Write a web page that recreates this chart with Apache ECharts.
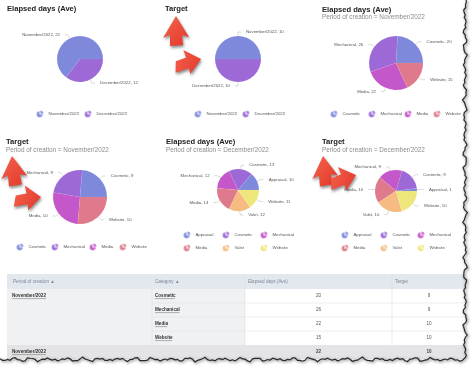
<!DOCTYPE html>
<html><head><meta charset="utf-8">
<script src="https://cdn.jsdelivr.net/npm/echarts@6/dist/echarts.min.js"></script>
<style>html,body{margin:0;padding:0;background:#fff;overflow:hidden}#c{width:474px;height:368px}</style>
</head><body><div id="c"></div>
<script>
// ---------- DATA ----------
const periodNames = ['November/2022', 'December/2022'];
const elapsedByPeriod = [22, 12];
const targetByPeriod = [10, 10];
const novCategories = ['Cosmetic', 'Mechanical', 'Media', 'Website'];
const novElapsed = [20, 26, 22, 15];
const novTarget = [9, 9, 10, 10];
const decCategories = ['Appraisal', 'Cosmetic', 'Mechanical', 'Media', 'Valet', 'Website'];
const decElapsed = [10, 13, 12, 14, 12, 11];
const decTarget = [1, 9, 9, 10, 10, 10];
const tableHeaders = ['Period of creation \u25B2', 'Category \u25B2', 'Elapsed days (Ave)', 'Target'];
const chartTitles = ['Elapsed days (Ave)', 'Target', 'Elapsed days (Ave)', 'Target', 'Elapsed days (Ave)', 'Target'];
const chartSubtitles = ['', '', 'Period of creation = November/2022', 'Period of creation = November/2022',
  'Period of creation = December/2022', 'Period of creation = December/2022'];

// ---------- STYLE / LAYOUT ----------
const FONT = '"Liberation Sans", Arial, sans-serif';
const palette = ['#7f89db', '#9c69d6', '#c457c9', '#de7a8c', '#f5bb80', '#ede77b'];
const PIE_ICON = 'path://M9,11L9,2A9,9,0,1,0,18,11Z M11,9L11,0A9,9,0,0,1,20,9Z';

const panels = [
  { names: periodNames, values: elapsedByPeriod, tx: 7, ty: 5, cx: 80, cy: 59, r: 23,
    leg: [[39, 113], [87, 113]] },
  { names: periodNames, values: targetByPeriod, tx: 165, ty: 5, cx: 238, cy: 59, r: 23,
    leg: [[197, 113], [245, 113]] },
  { names: novCategories, values: novElapsed, tx: 322, ty: 5.5, cx: 396, cy: 63, r: 27,
    leg: [[333, 113], [371, 113], [407, 113], [436, 113]] },
  { names: novCategories, values: novTarget, tx: 6, ty: 138, cx: 80, cy: 197, r: 27,
    leg: [[19, 246], [54, 246], [92, 246], [122, 246]] },
  { names: decCategories, values: decElapsed, tx: 166, ty: 138, cx: 238, cy: 190, r: 21,
    leg: [[186, 234], [225, 234], [263, 234], [186, 247], [225, 247], [263, 247]] },
  { names: decCategories, values: decTarget, tx: 322, ty: 138, cx: 396, cy: 191, r: 21,
    leg: [[344, 234], [383, 234], [420, 234], [344, 247], [383, 247], [420, 247]] }
];

const titles = [], series = [], legends = [];
panels.forEach((p, k) => {
  titles.push({
    text: chartTitles[k], subtext: chartSubtitles[k], left: p.tx, top: p.ty, padding: 0, itemGap: 1,
    textStyle: { fontSize: 7.6, fontWeight: 'bold', color: '#222', fontFamily: FONT },
    subtextStyle: { fontSize: 6.4, color: '#8c8c8c', fontFamily: FONT }
  });
  series.push({
    type: 'pie', center: [p.cx, p.cy], radius: p.r, startAngle: 0, clockwise: false,
    animation: false, avoidLabelOverlap: true,
    data: p.names.map((n, i) => ({ name: n, value: p.values[i], itemStyle: { color: palette[i] } })),
    itemStyle: { borderColor: 'rgba(255,255,255,0.25)', borderWidth: 0.2 },
    label: { formatter: '{b}, {c}', fontSize: 4.3, color: '#555', fontFamily: FONT },
    labelLine: { length: 4, length2: 3, lineStyle: { width: 0.5, color: '#b5b5b5' } },
    emphasis: { scale: false }
  });
  p.names.forEach((n, i) => {
    legends.push({
      left: p.leg[i][0] - 3.5, top: p.leg[i][1] - 3.5, padding: 0,
      itemWidth: 7, itemHeight: 7, selectedMode: false,
      data: [{ name: n, icon: PIE_ICON, itemStyle: { color: palette[i] } }],
      textStyle: { fontSize: 4.3, color: '#555', fontFamily: FONT, padding: [0, 0, 0, 0] }
    });
  });
});

// ---------- TABLE ----------
const colX = [7, 152, 245, 392, 466];
const headerTop = 274, headerH = 15, rowH = 14;
const g = [];
g.push({ type: 'rect', shape: { x: colX[0], y: headerTop, width: colX[4] - colX[0], height: headerH },
  style: { fill: '#e3e8ef' } });
tableHeaders.forEach((h, i) => {
  g.push({ type: 'text', x: colX[i] + (i === 0 ? 6 : 3), y: headerTop + headerH / 2,
    style: { text: h, fontSize: 4.6, fill: '#7c8799', fontFamily: FONT, verticalAlign: 'middle' } });
});
const bodyTop = headerTop + headerH;
g.push({ type: 'rect', shape: { x: colX[0], y: bodyTop, width: colX[2] - colX[0], height: rowH * novCategories.length },
  style: { fill: '#f0f1f3' } });
[colX[1], colX[2], colX[3]].forEach((x, i) => {
  g.push({ type: 'line', shape: { x1: x, y1: i === 0 ? bodyTop : headerTop, x2: x, y2: bodyTop + rowH * 4 },
    style: { stroke: '#dcdde0', lineWidth: 0.6 } });
});
function linkText(txt, x, y, w) {
  g.push({ type: 'text', x: x, y: y,
    style: { text: txt, fontSize: 4.6, fontWeight: 'bold', fill: '#333', fontFamily: FONT, verticalAlign: 'middle' } });
  g.push({ type: 'line', shape: { x1: x, y1: y + 2.6, x2: x + w, y2: y + 2.6 }, style: { stroke: '#444', lineWidth: 0.4 } });
}
linkText(periodNames[0], colX[0] + 5, bodyTop + rowH / 2, 34);
novCategories.forEach((c, i) => {
  const cy = bodyTop + rowH * i + rowH / 2;
  if (i > 0) g.push({ type: 'line', shape: { x1: colX[1], y1: bodyTop + rowH * i, x2: colX[4], y2: bodyTop + rowH * i },
    style: { stroke: '#e2e3e6', lineWidth: 0.6 } });
  linkText(c, colX[1] + 3, cy, c.length * 2.45);
  g.push({ type: 'text', x: (colX[2] + colX[3]) / 2, y: cy,
    style: { text: String(novElapsed[i]), fontSize: 4.6, fill: '#555', fontFamily: FONT, align: 'center', verticalAlign: 'middle' } });
  g.push({ type: 'text', x: (colX[3] + colX[4]) / 2, y: cy,
    style: { text: String(novTarget[i]), fontSize: 4.6, fill: '#555', fontFamily: FONT, align: 'center', verticalAlign: 'middle' } });
});
const totTop = bodyTop + rowH * 4;
g.push({ type: 'rect', shape: { x: colX[0], y: totTop, width: colX[4] - colX[0], height: rowH },
  style: { fill: '#e4e4e6' } });
linkText(periodNames[0], colX[0] + 5, totTop + rowH / 2, 34);
g.push({ type: 'text', x: (colX[2] + colX[3]) / 2, y: totTop + rowH / 2,
  style: { text: String(elapsedByPeriod[0]), fontSize: 4.6, fontWeight: 'bold', fill: '#444', fontFamily: FONT, align: 'center', verticalAlign: 'middle' } });
g.push({ type: 'text', x: (colX[3] + colX[4]) / 2, y: totTop + rowH / 2,
  style: { text: String(targetByPeriod[0]), fontSize: 4.6, fontWeight: 'bold', fill: '#444', fontFamily: FONT, align: 'center', verticalAlign: 'middle' } });

// ---------- ARROWS ----------
const upArrow = [[0, 0], [13, 21], [6, 19], [7, 29], [-6, 30], [-6, 19], [-13, 22]];
const rightArrow = [[0, 0], [-15, -13], [-14, -5], [-25, -4], [-28, 7], [-14, 6], [-14, 12]];
const arrowStyle = {
  fill: new echarts.graphic.LinearGradient(0, 0, 1, 1, [{ offset: 0, color: '#f6654e' }, { offset: 1, color: '#e2372a' }]),
  shadowBlur: 3, shadowColor: 'rgba(0,0,0,0.45)', shadowOffsetX: 1, shadowOffsetY: 2
};
[[176, 16, upArrow, 0], [201, 59, rightArrow, 0.25], [12, 156, upArrow, 0.1], [41, 197, rightArrow, 0.1],
 [323, 156, upArrow, 0.1], [356, 175, rightArrow, 0.3]].forEach(a => {
  g.push({ type: 'polygon', x: a[0], y: a[1], rotation: a[3], shape: { points: a[2] }, style: arrowStyle, z: 50 });
});

// ---------- TORN EDGE ----------
function jag(t) { return 1.2 * Math.sin(t * 0.9) + 0.8 * Math.sin(t * 2.3 + 1) + 0.6 * Math.sin(t * 5.1 + 2); }
const edge = [];
for (let y = 0; y <= 358; y += 2.5) edge.push([465 + jag(y / 2.5), y]);
for (let x = 465; x >= -2; x -= 2.5) edge.push([x, 359.5 + jag(x / 2.5 + 7)]);
g.push({ type: 'polygon', shape: { points: [[474, -2]].concat(edge, [[-2, 370], [476, 370]]) },
  style: { fill: '#ffffff' }, z: 60 });
g.push({ type: 'polyline', shape: { points: edge },
  style: { stroke: '#2a2a2a', lineWidth: 1.2, fill: null, shadowBlur: 3, shadowColor: 'rgba(0,0,0,0.6)', shadowOffsetX: 1, shadowOffsetY: 1 }, z: 61 });

const chart = echarts.init(document.getElementById('c'), null, { renderer: 'canvas' });
chart.setOption({
  backgroundColor: '#ffffff',
  animation: false,
  title: titles,
  legend: legends,
  series: series,
  graphic: g
});
</script></body></html>
